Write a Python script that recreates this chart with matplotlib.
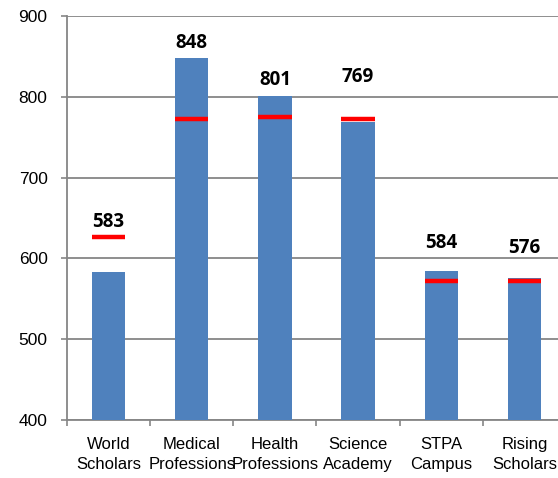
import matplotlib
matplotlib.use("Agg")
import matplotlib.pyplot as plt
import numpy as np

categories = ["World\nScholars", "Medical\nProfessions", "Health\nProfessions",
              "Science\nAcademy", "STPA\nCampus", "Rising\nScholars"]
scores = [583, 848, 801, 769, 584, 576]
targets = [627, 772, 775, 772, 572, 572]
yticks = [400, 500, 600, 700, 800, 900]

# label offsets (points above the top of bar/marker) - styling only
label_pad = [10.3, 10.8, 11.5, 30.5, 20.4, 21.5]

fig = plt.figure(figsize=(5.58, 4.78), dpi=100)
ax = fig.add_axes([67/558, 58/478, 499/558, 404/478])

x = np.arange(len(categories))
w = 0.40
ax.bar(x, scores, width=w, color="#4F81BD", zorder=3)
ax.hlines(targets, x - w/2, x + w/2, colors="#FF0000", linewidth=3.2, zorder=4)

for xi, s, t, p in zip(x, scores, targets, label_pad):
    top = max(s, t)
    ax.annotate(str(s), (xi, top), xytext=(0, p), textcoords="offset points",
                ha="center", va="center", fontsize=13.5, fontweight="bold",
                family="Open Sans", color="black")

ax.set_xlim(-0.5, len(categories) - 0.5)
ax.set_ylim(400, 900)
ax.set_yticks(yticks)
ax.set_yticklabels([str(v) for v in yticks], fontsize=12.5, family="Liberation Sans")
ax.set_xticks(np.arange(len(categories) + 1) - 0.5, minor=False)
ax.set_xticklabels([])
ax.set_xticks(x, minor=True)
ax.set_xticklabels(categories, minor=True, fontsize=12, family="Liberation Sans",
                   linespacing=1.45)
ax.tick_params(axis="x", which="minor", length=0, pad=12)
ax.tick_params(axis="x", which="major", length=4, color="#868686", width=1.2)
ax.tick_params(axis="y", length=4, color="#868686", width=1.2, pad=10)

ax.grid(axis="y", color="#868686", linewidth=1.3, zorder=0)
ax.set_axisbelow(True)
for s in ["top", "right"]:
    ax.spines[s].set_visible(False)
for s in ["left", "bottom"]:
    ax.spines[s].set_color("#868686")
    ax.spines[s].set_linewidth(1.3)

fig.savefig("out.png", dpi=100)
